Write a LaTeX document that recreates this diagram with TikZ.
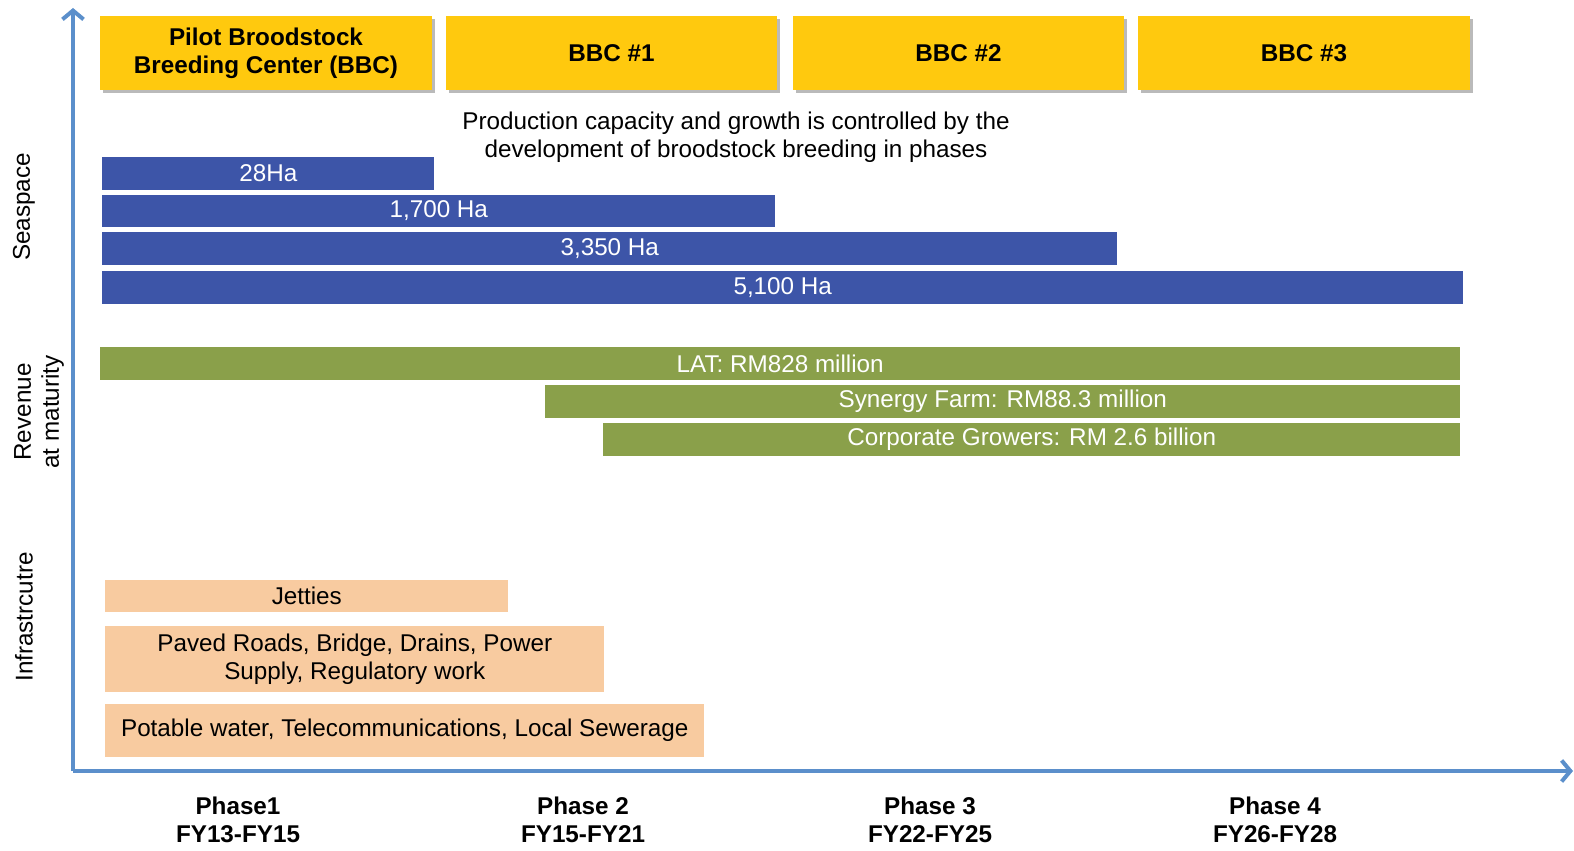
\documentclass[tikz,border=0pt]{standalone}
\usepackage{fontspec}
\setmainfont{Liberation Sans}
\usepackage{tikz}
\usetikzlibrary{arrows.meta,shadows}
\definecolor{bbcyellow}{HTML}{FFC90E}
\definecolor{seablue}{HTML}{3D55A8}
\definecolor{revgreen}{HTML}{8AA04A}
\definecolor{infraorange}{HTML}{F8CBA0}
\definecolor{axisblue}{HTML}{5B8FCB}
\tikzset{
  every node/.style={font=\fontsize{13.8}{16}\selectfont},
  bbc/.style={fill=bbcyellow, minimum width=6.64cm, minimum height=1.48cm,
    align=center, font=\fontsize{13.8}{16}\selectfont\bfseries,
    drop shadow={shadow xshift=0.06cm, shadow yshift=-0.06cm, fill=black!45, opacity=0.6}},
  sea/.style={fill=seablue, text=white, minimum height=0.66cm, anchor=west, inner sep=0pt},
  rev/.style={fill=revgreen, text=white, minimum height=0.66cm, anchor=west, inner sep=0pt},
  infra/.style={fill=infraorange, anchor=west, align=center, inner sep=0pt},
  axislabel/.style={rotate=90, align=center},
  phase/.style={align=center, font=\fontsize{13.8}{16}\selectfont\bfseries},
  axis/.style={draw=axisblue, line width=0.08cm, -{Straight Barb[length=5pt,width=12pt]}}
}
\begin{document}
\begin{tikzpicture}[x=0.02cm, y=-0.02cm]
\useasboundingbox (0,0) rectangle (1574,851);
% axes
\coordinate (o) at (73,771);
\coordinate (ytop) at (73,8);
\coordinate (xend) at (1573,771);
\draw[axis] (o) -- (ytop);
\draw[axis] (o) -- (xend);
% breeding centres
\node[bbc] (bbc0) at (266,53) {Pilot Broodstock\\Breeding Center (BBC)};
\node[bbc] (bbc1) at (611.5,53) {BBC \#1};
\node[bbc] (bbc2) at (958.5,53) {BBC \#2};
\node[bbc] (bbc3) at (1304,53) {BBC \#3};
\node[align=center] (note) at (736,137.5) {Production capacity and growth is controlled by the\\development of broodstock breeding in phases};
% seaspace
\node[sea, minimum width=6.64cm] (sea1) at (102,173.5) {28Ha};
\node[sea, minimum width=13.46cm] (sea2) at (102,211) {1,700 Ha};
\node[sea, minimum width=20.3cm] (sea3) at (102,248.5) {3,350 Ha};
\node[sea, minimum width=27.22cm] (sea4) at (102,287.5) {5,100 Ha};
% revenue
\node[rev, minimum width=27.2cm] (rev1) at (100,363.5) {LAT: RM828 million};
\node[rev, minimum width=18.3cm] (rev2) at (545,401) {Synergy Farm: RM88.3 million};
\node[rev, minimum width=17.14cm] (rev3) at (603,439) {Corporate Growers: RM 2.6 billion};
% infrastructure
\node[infra, minimum width=8.06cm, minimum height=0.64cm] (inf1) at (105,596) {Jetties};
\node[infra, minimum width=9.98cm, minimum height=1.32cm] (inf2) at (105,659) {Paved Roads, Bridge, Drains, Power\\Supply, Regulatory work};
\node[infra, minimum width=11.98cm, minimum height=1.06cm] (inf3) at (105,730.5) {Potable water, Telecommunications, Local Sewerage};
% side labels
\node[axislabel] (lsea) at (24,207) {Seaspace};
\node[axislabel] (lrev) at (39,412) {Revenue\\at maturity};
\node[axislabel] (linf) at (24,617) {Infrastrcutre};
% phases
\node[phase] (ph1) at (238,819.5) {Phase1\\FY13-FY15};
\node[phase] (ph2) at (583,819.5) {Phase 2\\FY15-FY21};
\node[phase] (ph3) at (930,819.5) {Phase 3\\FY22-FY25};
\node[phase] (ph4) at (1275,819.5) {Phase 4\\FY26-FY28};
\end{tikzpicture}
\end{document}
